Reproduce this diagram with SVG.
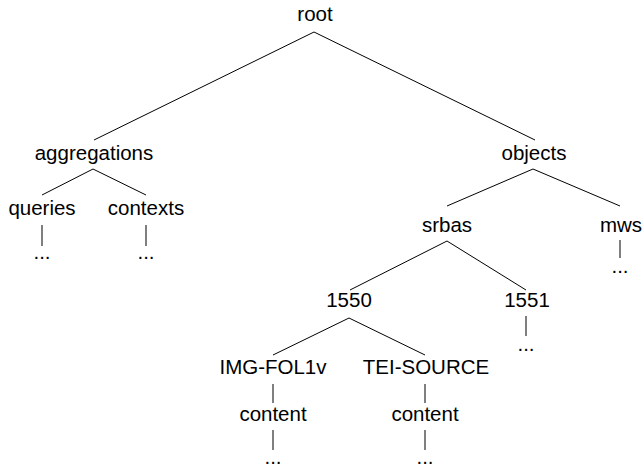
<svg xmlns="http://www.w3.org/2000/svg" width="643" height="468" viewBox="0 0 643 468">
<style>
text{font-family:"Liberation Sans","DejaVu Sans",sans-serif;font-size:20.5px;fill:#000;text-anchor:middle}
.e line{stroke:#000;stroke-width:1}
</style>
<rect width="643" height="468" fill="#fff"/>
<g class="e" id="edges">
<line x1="314" y1="32" x2="94" y2="140"/>
<line x1="314" y1="32" x2="535" y2="140"/>
<line x1="93" y1="169" x2="42" y2="195"/>
<line x1="93" y1="169" x2="146" y2="195"/>
<line x1="42" y1="225" x2="42" y2="246"/>
<line x1="146" y1="225" x2="146" y2="246"/>
<line x1="533" y1="169" x2="447" y2="206"/>
<line x1="533" y1="169" x2="620" y2="206"/>
<line x1="620" y1="240" x2="620" y2="258"/>
<line x1="447" y1="241" x2="350" y2="290"/>
<line x1="447" y1="241" x2="526" y2="290"/>
<line x1="526" y1="316" x2="526" y2="336"/>
<line x1="349" y1="318" x2="273" y2="355"/>
<line x1="349" y1="318" x2="425" y2="355"/>
<line x1="273" y1="384" x2="273" y2="403"/>
<line x1="425" y1="384" x2="425" y2="403"/>
<line x1="273" y1="430" x2="273" y2="450"/>
<line x1="425" y1="430" x2="425" y2="450"/>
</g>
<g id="n-root"><text x="315" y="21">root</text></g>
<g id="n-aggregations"><text x="94" y="160">aggregations</text></g>
<g id="n-objects"><text x="534" y="160">objects</text></g>
<g id="n-queries"><text x="42" y="215">queries</text></g>
<g id="n-contexts"><text x="146" y="215">contexts</text></g>
<g id="n-queries-more"><text x="42" y="259">...</text></g>
<g id="n-contexts-more"><text x="146" y="259">...</text></g>
<g id="n-srbas"><text x="447" y="232">srbas</text></g>
<g id="n-mws"><text x="621" y="232">mws</text></g>
<g id="n-mws-more"><text x="620" y="273">...</text></g>
<g id="n-1550"><text x="349" y="307">1550</text></g>
<g id="n-1551"><text x="527" y="307">1551</text></g>
<g id="n-1551-more"><text x="526" y="351">...</text></g>
<g id="n-img"><text x="273" y="374">IMG-FOL1v</text></g>
<g id="n-tei"><text x="426" y="374">TEI-SOURCE</text></g>
<g id="n-content1"><text x="273" y="421">content</text></g>
<g id="n-content2"><text x="425" y="421">content</text></g>
<g id="n-img-more"><text x="273" y="464">...</text></g>
<g id="n-tei-more"><text x="425" y="464">...</text></g>
</svg>
